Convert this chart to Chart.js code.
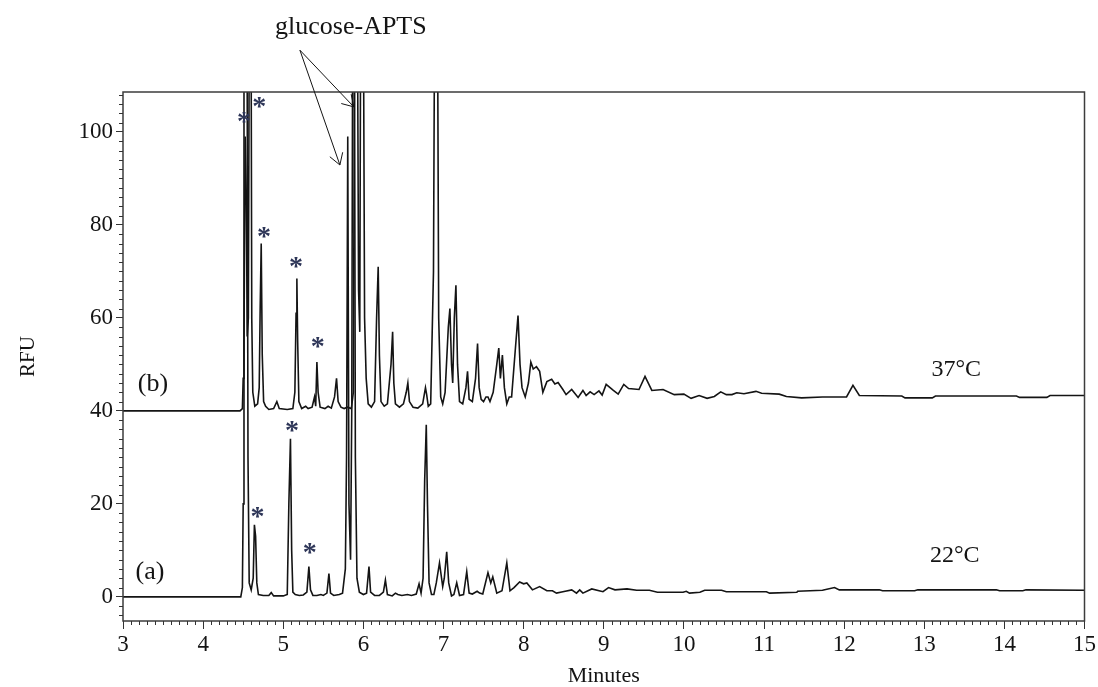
<!DOCTYPE html>
<html>
<head>
<meta charset="utf-8">
<script src="https://cdn.jsdelivr.net/npm/chart.js@4.4.1/dist/chart.umd.min.js"></script>
<style>
  html, body { margin: 0; padding: 0; background: #ffffff; }
  #wrap { width: 1098px; height: 687px; }
</style>
</head>
<body>
<div id="wrap"><canvas id="c" width="1098" height="687"></canvas></div>
<script>
// ---------- data ----------
const xTickValues = [3, 4, 5, 6, 7, 8, 9, 10, 11, 12, 13, 14, 15];
const yTickValues = [0, 20, 40, 60, 80, 100];
const xRange = [3, 15];
const yRange = [-5.2, 108.6];

// (a) 22°C trace: [minutes, RFU]
const trace22 = [
  [3.0,0],[4.47,0],[4.49,2],[4.50,20],[4.51,150],[4.545,150],[4.56,30],[4.575,3],[4.60,1.5],[4.625,4],
  [4.64,15.5],[4.655,13],[4.67,3],[4.69,0.5],[4.75,0.3],[4.82,0.3],[4.85,0.9],[4.88,0.2],[5.00,0.2],[5.05,0.5],
  [5.07,20],[5.09,34],[5.105,10],[5.12,1],[5.15,0.5],[5.20,0.3],[5.25,0.4],[5.295,1],[5.32,6.5],[5.34,1.5],
  [5.37,0.3],[5.42,0.3],[5.47,0.5],[5.50,0.3],[5.545,0.8],[5.57,5],[5.59,0.8],[5.63,0.3],[5.70,0.5],[5.74,0.8],
  [5.775,6],[5.79,30],[5.805,99],[5.82,20],[5.84,8],[5.855,40],[5.87,150],[5.885,150],[5.90,30],[5.92,4],
  [5.95,1],[6.00,0.5],[6.04,0.8],[6.07,6.5],[6.09,1],[6.14,0.3],[6.20,0.3],[6.25,1],[6.275,3.6],[6.30,0.5],
  [6.36,0.2],[6.40,0.8],[6.43,0.5],[6.48,0.3],[6.55,0.5],[6.60,0.3],[6.66,0.6],[6.695,2.8],[6.72,0.8],[6.745,4],
  [6.765,25],[6.785,37],[6.80,20],[6.82,3],[6.85,0.5],[6.88,0.5],[6.91,3],[6.95,7.3],[6.99,2.2],[7.01,4],
  [7.04,9.7],[7.065,3],[7.10,0.2],[7.13,0.5],[7.165,3.0],[7.20,0.3],[7.25,0.5],[7.29,5.4],[7.32,0.8],[7.36,0.6],
  [7.42,1.2],[7.45,0.8],[7.49,0.6],[7.555,5.2],[7.59,3],[7.615,4.3],[7.665,0.8],[7.73,1.3],[7.79,7.3],[7.83,1.3],
  [7.88,2],[7.95,3.2],[8.00,2.8],[8.04,3],[8.11,1.5],[8.20,2.2],[8.29,1.3],[8.36,1.3],[8.41,0.8],[8.49,1.1],
  [8.60,1.5],[8.66,0.8],[8.70,1.5],[8.74,0.8],[8.85,1.7],[8.99,1.1],[9.06,2.0],[9.14,1.5],[9.29,1.7],[9.41,1.4],
  [9.57,1.4],[9.67,1.0],[9.99,1.0],[10.03,1.2],[10.07,0.8],[10.20,1.0],[10.26,1.4],[10.47,1.4],[10.53,1.1],[11.03,1.1],
  [11.07,0.8],[11.41,1.0],[11.42,1.2],[11.73,1.4],[11.88,2.0],[11.94,1.5],[12.44,1.5],[12.48,1.3],[12.88,1.3],[12.92,1.5],
  [13.90,1.5],[13.94,1.3],[14.23,1.3],[14.27,1.5],[15.0,1.4]
];

// (b) 37°C trace (drawn with +40 offset as in the figure): [minutes, RFU]
const trace37 = [
  [3.00,40],[4.46,40],[4.49,40.5],[4.50,47],[4.51,55],[4.525,99],[4.54,85],[4.55,56],[4.565,60],[4.58,150],
  [4.595,150],[4.607,60],[4.62,44],[4.645,41],[4.68,41.5],[4.70,45],[4.712,62],[4.725,76],[4.738,52],[4.755,42],
  [4.78,41],[4.82,40.3],[4.88,40.5],[4.92,42],[4.95,40.5],[5.05,40.3],[5.12,40.5],[5.145,44],[5.16,61],[5.17,68.5],
  [5.18,55],[5.195,42],[5.23,40.5],[5.28,41],[5.31,40.5],[5.36,40.8],[5.39,43],[5.405,41],[5.42,50.5],[5.435,44],
  [5.46,40.8],[5.52,40.5],[5.56,41],[5.60,40.6],[5.64,43],[5.665,47],[5.685,42],[5.72,40.8],[5.76,40.5],[5.80,40.8],
  [5.85,40.5],[5.875,44],[5.895,150],[5.92,150],[5.94,66],[5.955,57],[5.97,150],[5.995,150],[6.015,60],[6.035,47],
  [6.06,41.5],[6.10,40.8],[6.14,42],[6.165,60],[6.185,71],[6.20,52],[6.22,42],[6.26,41],[6.30,41.5],[6.345,50],
  [6.365,57],[6.38,46],[6.40,41.5],[6.45,40.8],[6.50,41.5],[6.535,44],[6.555,46],[6.575,42],[6.62,40.8],[6.68,40.6],
  [6.74,41.5],[6.775,45],[6.79,43.5],[6.81,41],[6.84,41.5],[6.875,70],[6.895,150],[6.92,150],[6.94,60],[6.965,43],
  [6.99,41.5],[7.02,44],[7.06,58],[7.08,62],[7.10,50],[7.115,46],[7.135,60],[7.155,67],[7.175,50],[7.20,42],
  [7.24,41.5],[7.28,45],[7.30,48.5],[7.32,42.5],[7.36,42],[7.40,47],[7.425,54.5],[7.445,45],[7.47,42.5],[7.50,42],
  [7.53,43],[7.555,43],[7.58,42],[7.62,44],[7.665,50],[7.69,53.5],[7.71,47],[7.735,52],[7.76,45],[7.79,41.5],
  [7.82,43],[7.85,43],[7.90,54],[7.93,60.5],[7.955,50],[7.98,45],[8.02,43],[8.06,46],[8.09,50.5],[8.12,49],
  [8.16,49.5],[8.20,48.5],[8.24,44],[8.29,46.3],[8.35,46.8],[8.39,45.8],[8.43,46.1],[8.49,44.6],[8.53,43.5],[8.60,44.6],
  [8.68,42.9],[8.74,44.4],[8.78,43.3],[8.83,44.1],[8.88,43.5],[8.94,44.3],[8.98,43.4],[9.03,45.7],[9.12,44.4],[9.18,43.6],
  [9.25,45.7],[9.31,44.8],[9.44,44.6],[9.515,47.4],[9.60,44.4],[9.74,44.6],[9.88,43.5],[10.0,43.6],[10.09,42.7],[10.19,43.3],
  [10.29,42.7],[10.38,43.1],[10.46,44.1],[10.53,43.5],[10.60,43.5],[10.66,43.9],[10.75,43.7],[10.90,44.2],[10.97,43.8],[11.19,43.6],
  [11.28,43.1],[11.47,42.8],[11.73,43.0],[12.03,43.0],[12.11,45.5],[12.19,43.3],[12.72,43.2],[12.76,42.8],[13.10,42.8],[13.14,43.2],
  [14.15,43.2],[14.19,42.9],[14.53,42.9],[14.57,43.3],[15.0,43.3]
];

// asterisk peak marks [minutes, RFU]
const peakMarks = [[4.51,103.2],[4.70,106.3],[4.76,78.4],[5.16,72],[5.43,54.7],[5.11,36.6],[4.68,18.1],[5.33,10.3]];

// text labels [text, minutes, RFU, font size]
const textLabels = [
  ['(b)', 3.374, 45.8, 26],
  ['(a)', 3.337, 5.4, 26],
  ['37°C', 13.40, 48.8, 24],
  ['22°C', 13.38, 8.8, 24],
  ['glucose-APTS', 5.844, 122.6, 26]
];

// arrows from the glucose-APTS label: start point and tips [minutes, RFU]
const arrowStart = [5.208, 117.6];
const arrowTips = [[5.707, 92.9], [5.881, 105.4]];

// ---------- drawing ----------
const FONT = "'Liberation Serif', 'Times New Roman', serif";
const INK = '#141414';

const overlayPlugin = {
  id: 'overlay',
  afterDraw(chart) {
    const {ctx, chartArea: a, scales: {x, y}} = chart;
    ctx.save();
    // frame
    ctx.strokeStyle = '#3c3c3c';
    ctx.lineWidth = 1.5;
    ctx.strokeRect(a.left, a.top, a.right - a.left, a.bottom - a.top);
    // minor ticks
    ctx.lineWidth = 1;
    ctx.strokeStyle = '#333';
    ctx.beginPath();
    for (let i = Math.ceil(xRange[0] * 10); i <= xRange[1] * 10; i++) {
      if (i % 10 === 0) continue;
      const px = Math.round(x.getPixelForValue(i / 10)) + 0.5;
      ctx.moveTo(px, a.bottom);
      ctx.lineTo(px, a.bottom + 4);
    }
    for (let v = Math.ceil(yRange[0] / 2) * 2; v <= yRange[1]; v += 2) {
      if (v % 20 === 0) continue;
      const py = Math.round(y.getPixelForValue(v)) + 0.5;
      ctx.moveTo(a.left - 4, py);
      ctx.lineTo(a.left, py);
    }
    ctx.stroke();

    // asterisks
    ctx.fillStyle = '#2e3658';
    ctx.font = 'bold 28px ' + FONT;
    ctx.textAlign = 'center';
    ctx.textBaseline = 'alphabetic';
    const m = ctx.measureText('*');
    const asc = m.actualBoundingBoxAscent, desc = m.actualBoundingBoxDescent;
    peakMarks.forEach(([t, v]) => {
      const px = x.getPixelForValue(t), py = y.getPixelForValue(v);
      ctx.fillText('*', px, py + (asc - desc) / 2);
    });

    // text labels
    ctx.fillStyle = INK;
    ctx.textBaseline = 'middle';
    textLabels.forEach(([txt, t, v, size]) => {
      ctx.font = size + 'px ' + FONT;
      ctx.fillText(txt, x.getPixelForValue(t), y.getPixelForValue(v));
    });

    // arrows
    ctx.strokeStyle = INK;
    ctx.lineWidth = 1;
    const sx = x.getPixelForValue(arrowStart[0]), sy = y.getPixelForValue(arrowStart[1]);
    arrowTips.forEach(([t, v]) => {
      const ex = x.getPixelForValue(t), ey = y.getPixelForValue(v);
      ctx.beginPath();
      ctx.moveTo(sx, sy);
      ctx.lineTo(ex, ey);
      const ang = Math.atan2(sy - ey, sx - ex);
      const L = 13, w = 0.55;
      ctx.moveTo(ex + L * Math.cos(ang + w), ey + L * Math.sin(ang + w));
      ctx.lineTo(ex, ey);
      ctx.lineTo(ex + L * Math.cos(ang - w), ey + L * Math.sin(ang - w));
      ctx.stroke();
    });
    ctx.restore();
  }
};

const toXY = arr => arr.map(([t, v]) => ({x: t, y: v}));

new Chart(document.getElementById('c'), {
  type: 'line',
  data: {
    datasets: [
      { label: '22°C', data: toXY(trace22), borderColor: INK, borderWidth: 1.6, pointRadius: 0, tension: 0, fill: false },
      { label: '37°C', data: toXY(trace37), borderColor: INK, borderWidth: 1.6, pointRadius: 0, tension: 0, fill: false }
    ]
  },
  options: {
    responsive: false,
    animation: false,
    events: [],
    layout: { padding: { left: 0, top: 92, right: 12, bottom: 0 } },
    plugins: { legend: { display: false }, tooltip: { enabled: false } },
    scales: {
      x: {
        type: 'linear',
        min: xRange[0], max: xRange[1],
        afterBuildTicks: s => { s.ticks = xTickValues.map(v => ({value: v})); },
        afterFit: s => { s.height = 66; },
        grid: { display: true, drawOnChartArea: false, drawTicks: true, tickLength: 8, color: '#333', lineWidth: 1 },
        border: { display: false },
        ticks: { autoSkip: false, maxRotation: 0, padding: 2, color: INK,
                 font: { family: FONT, size: 23 }, callback: v => String(v) },
        title: { display: true, text: 'Minutes', color: INK, font: { family: FONT, size: 22, lineHeight: 1 },
                 padding: { top: 0, bottom: 0 } }
      },
      y: {
        type: 'linear',
        min: yRange[0], max: yRange[1],
        afterBuildTicks: s => { s.ticks = yTickValues.map(v => ({value: v})); },
        afterFit: s => { s.width = 123; },
        grid: { display: true, drawOnChartArea: false, drawTicks: true, tickLength: 7, color: '#333', lineWidth: 1 },
        border: { display: false },
        ticks: { padding: 3, color: INK, font: { family: FONT, size: 23 }, callback: v => String(v) },
        title: { display: true, text: 'RFU', color: INK, font: { family: FONT, size: 21, lineHeight: 1.2 },
                 padding: { top: 16, bottom: 0 } }
      }
    }
  },
  plugins: [overlayPlugin]
});
</script>
</body>
</html>
